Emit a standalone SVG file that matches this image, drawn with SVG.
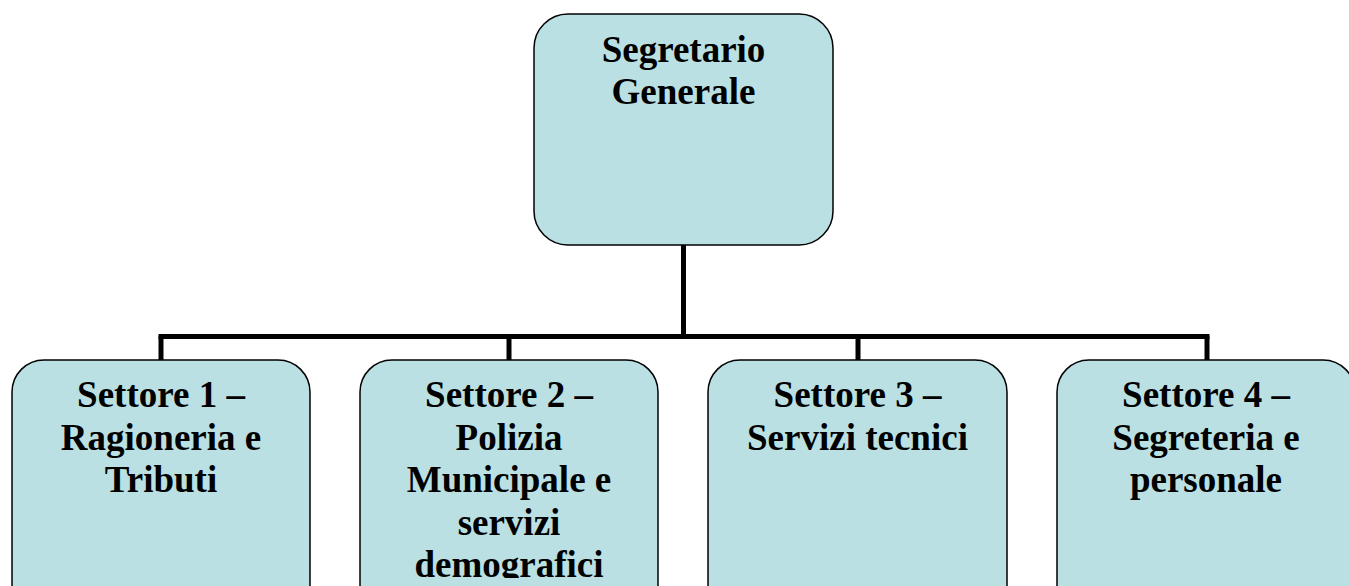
<svg xmlns="http://www.w3.org/2000/svg" width="1349" height="586" viewBox="0 0 1349 586">
<style>
.box{fill:#BAE0E3;stroke:#000;stroke-width:1.5}
.t{font-family:"Liberation Serif","Times New Roman",serif;font-weight:bold;font-size:37px;text-anchor:middle;fill:#000}
.c{fill:none;stroke:#000;stroke-width:5}
</style>
<defs>
<clipPath id="clip2"><rect x="360" y="360" width="300" height="218"/></clipPath>
</defs>
<rect width="1349" height="586" fill="#fff"/>
<g id="connectors">
<path class="c" d="M683.5 245 V336.5"/>
<path class="c" d="M158.5 336.5 H1209.5"/>
<path class="c" d="M161 336.5 V361"/>
<path class="c" d="M509 336.5 V361"/>
<path class="c" d="M858 336.5 V361"/>
<path class="c" d="M1207 336.5 V361"/>
</g>
<g id="segretario">
<rect class="box" x="534" y="14" width="299" height="231" rx="34"/>
<text class="t" x="683.5" y="62">Segretario</text>
<text class="t" x="683.5" y="104">Generale</text>
</g>
<g id="settore1">
<rect class="box" x="12" y="360" width="298" height="260" rx="32"/>
<text class="t" x="161" y="407">Settore 1 –</text>
<text class="t" x="161" y="450">Ragioneria e</text>
<text class="t" x="161" y="492">Tributi</text>
</g>
<g id="settore2">
<rect class="box" x="360" y="360" width="298" height="260" rx="32"/>
<g clip-path="url(#clip2)">
<text class="t" x="509" y="407">Settore 2 –</text>
<text class="t" x="509" y="450">Polizia</text>
<text class="t" x="509" y="492">Municipale e</text>
<text class="t" x="509" y="535">servizi</text>
<text class="t" x="509" y="577">demografici</text>
</g>
</g>
<g id="settore3">
<rect class="box" x="708" y="360" width="299" height="260" rx="32"/>
<text class="t" x="857.5" y="407">Settore 3 –</text>
<text class="t" x="857.5" y="450">Servizi tecnici</text>
</g>
<g id="settore4">
<rect class="box" x="1057" y="360" width="298" height="260" rx="32"/>
<text class="t" x="1206" y="407">Settore 4 –</text>
<text class="t" x="1206" y="450">Segreteria e</text>
<text class="t" x="1206" y="492">personale</text>
</g>
</svg>
